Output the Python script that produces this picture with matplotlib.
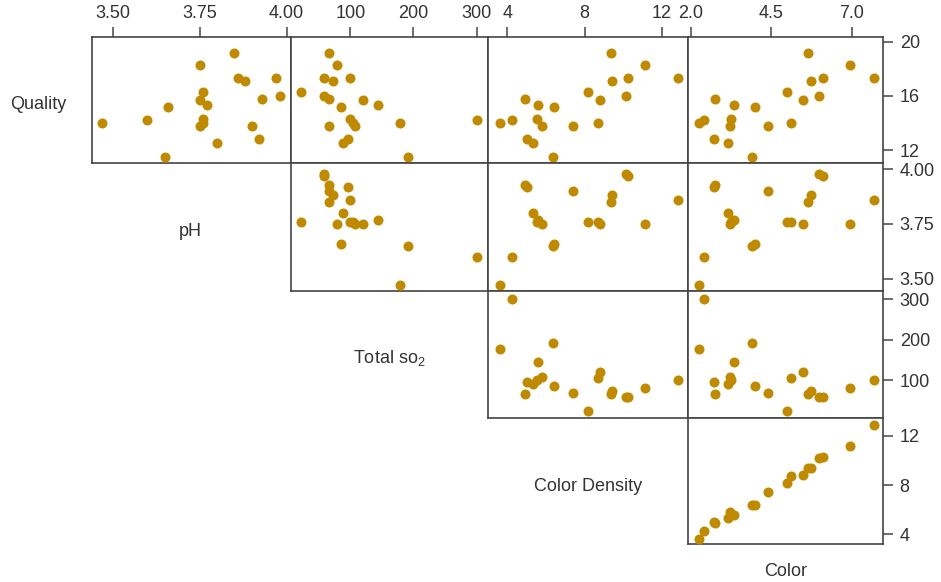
import numpy as np
import matplotlib as mpl
mpl.use('Agg')
import matplotlib.pyplot as plt
#--------------------------------
#Datos (20 vinos)
quality=[19.2, 18.3, 17.1, 15.2, 14.0, 13.8, 12.8, 17.3, 16.3, 16.0,
         15.7, 15.3, 14.3, 14.0, 13.8, 12.5, 11.5, 14.2, 17.3, 15.8]
ph=[3.85, 3.75, 3.88, 3.66, 3.47, 3.75, 3.92, 3.97, 3.76, 3.98,
    3.75, 3.77, 3.76, 3.76, 3.90, 3.80, 3.65, 3.60, 3.86, 3.93]
so2=[66, 79, 73, 86, 178, 108, 96, 59, 22, 58,
     120, 144, 100, 104, 67, 89, 192, 301, 99, 66]
cdens=[9.35, 11.15, 9.40, 6.40, 3.60, 5.80, 5.00, 10.25, 8.20, 10.15,
       8.80, 5.60, 5.55, 8.70, 7.41, 5.35, 6.35, 4.25, 12.85, 4.90]
color=[5.65, 6.95, 5.75, 4.00, 2.25, 3.20, 2.70, 6.10, 5.00, 6.00,
       5.50, 3.35, 3.25, 5.10, 4.40, 3.15, 3.90, 2.40, 7.70, 2.75]

nombres=['Quality', 'pH', 'Total so$_2$', 'Color Density', 'Color']
ticks=[[12, 16, 20], [3.50, 3.75, 4.00], [100, 200, 300], [4, 8, 12], [2.0, 4.5, 7.0]]
tlab=[['12', '16', '20'], ['3.50', '3.75', '4.00'], ['100', '200', '300'],
      ['4', '8', '12'], ['2.0', '4.5', '7.0']]
#--------------------------------
#Diseño
datos=[quality, ph, so2, cdens, color]
limx=[None, (3.44, 4.012), (5.7, 318.4), (3.016, 13.33), (1.89, 7.98)]
limy=[(11.02, 20.33), (3.445, 4.027), (5.1, 321.3), (3.2, 13.4), None]
W, H = 941., 582.
colx=[91.7, 290.7, 488.3, 687.5, 883.0]
rowy=[37.3, 163.3, 290.7, 418.3, 544.3]
punto='#BF8A00'
linea='#444444'
texto='#333333'

plt.rcParams['font.family']=['Liberation Sans', 'DejaVu Sans']
plt.rcParams['mathtext.fontset']='custom'
plt.rcParams['mathtext.rm']='Liberation Sans'
fs=13

fig=plt.figure(figsize=(W/100., H/100.), dpi=100)

for i in range(4):          #fila -> variable i
    for c in range(i, 4):   #columna -> variable c+1
        j=c+1
        l=colx[c]/W
        b=1.-rowy[i+1]/H
        w=(colx[c+1]-colx[c])/W
        h=(rowy[i+1]-rowy[i])/H
        ax=fig.add_axes([l, b, w, h])
        ax.scatter(datos[j], datos[i], s=52, color=punto,
                   linewidth=0, zorder=3)
        ax.set_xlim(limx[j])
        ax.set_ylim(limy[i])
        for s in ax.spines.values():
            s.set_color(linea)
            s.set_linewidth(1.2)
        ax.tick_params(length=0, labelbottom=False, labelleft=False)
        if i==0:
            ax.xaxis.tick_top()
            ax.set_xticks(ticks[j])
            ax.set_xticklabels(tlab[j])
            ax.tick_params(axis='x', top=True, labeltop=True, length=7,
                           width=1.2, color='#555555', pad=4,
                           labelsize=fs, labelcolor=texto)
        else:
            ax.set_xticks([])
        if c==3:
            ax.yaxis.tick_right()
            ax.set_yticks(ticks[i])
            ax.set_yticklabels(tlab[i])
            ax.tick_params(axis='y', right=True, labelright=True, length=7,
                           width=1.2, color='#555555', pad=5,
                           labelsize=fs, labelcolor=texto)
        else:
            ax.set_yticks([])

#Nombres en la diagonal
pos=[(38.5, 109), (190, 236), (389.5, 362.7), (588, 491), (785.5, 575.7)]
for k in range(5):
    fig.text(pos[k][0]/W, 1.-pos[k][1]/H, nombres[k], ha='center',
             va='baseline', fontsize=fs, color=texto)

fig.savefig('out.png', dpi=100)
